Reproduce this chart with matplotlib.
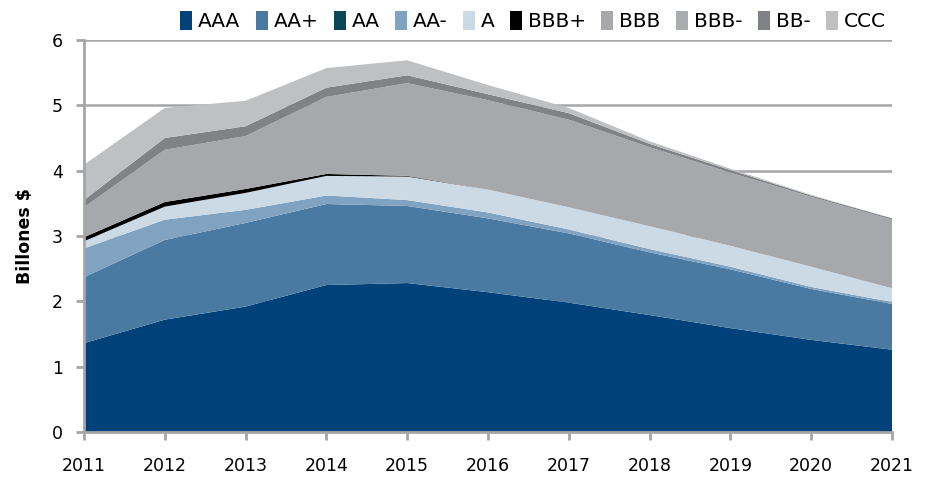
import matplotlib
matplotlib.use("Agg")
import matplotlib.pyplot as plt
import numpy as np
from matplotlib.patches import Patch

years = [2011, 2012, 2013, 2014, 2015, 2016, 2017, 2018, 2019, 2020, 2021]
labels = ["AAA", "AA+", "AA", "AA-", "A", "BBB+", "BBB", "BBB-", "BB-", "CCC"]

aaa = [1.36, 1.72, 1.92, 2.25, 2.28, 2.14, 1.98, 1.79, 1.59, 1.41, 1.26]
aa_plus = [1.01, 1.22, 1.28, 1.24, 1.18, 1.13, 1.06, 0.96, 0.90, 0.78, 0.70]
aa = [0, 0, 0, 0, 0, 0, 0, 0, 0, 0, 0]
aa_minus = [0.44, 0.31, 0.20, 0.13, 0.09, 0.09, 0.06, 0.05, 0.04, 0.03, 0.03]
a = [0.11, 0.20, 0.26, 0.30, 0.36, 0.35, 0.34, 0.35, 0.32, 0.31, 0.21]
bbb_plus = [0.06, 0.07, 0.06, 0.03, 0.01, 0, 0, 0, 0, 0, 0]
bbb = [0.46, 0.80, 0.81, 1.18, 1.42, 1.37, 1.34, 1.21, 1.12, 1.07, 1.05]
bbb_minus = [0, 0, 0, 0, 0, 0, 0, 0, 0, 0, 0]
bb_minus = [0.11, 0.18, 0.15, 0.14, 0.12, 0.09, 0.10, 0.05, 0.04, 0.02, 0.02]
ccc = [0.54, 0.46, 0.39, 0.30, 0.23, 0.14, 0.08, 0.04, 0.02, 0.01, 0.00]

series = [aaa, aa_plus, aa, aa_minus, a, bbb_plus, bbb, bbb_minus, bb_minus, ccc]
colors = ["#00417A", "#4A7AA2", "#0B4756", "#7FA3C0", "#CCDAE6", "#000000",
          "#A7A8AC", "#AAACAF", "#808285", "#BFC0C2"]

fig = plt.figure(figsize=(9.26, 4.78), dpi=100)
ax = fig.add_axes([0.0907, 0.0962, 0.8726, 0.8201])

ax.stackplot(years, *series, colors=colors, linewidth=0, zorder=2)

ax.set_xlim(2011, 2021)
ax.set_ylim(0, 6)
ax.set_xticks(years)
ax.set_yticks(range(0, 7))
ax.yaxis.grid(True, color="#A6A6A6", linewidth=1.8, zorder=0)
ax.set_axisbelow(True)

for s in ["top", "right"]:
    ax.spines[s].set_visible(False)
for s in ["left", "bottom"]:
    ax.spines[s].set_color("#A6A6A6")
    ax.spines[s].set_linewidth(2)
    ax.spines[s].set_zorder(3)

ax.tick_params(axis="both", colors="#A6A6A6", width=2, length=6,
               labelcolor="black", labelsize=12.5)
ax.tick_params(axis="x", pad=12)
ax.tick_params(axis="y", pad=9)
ax.set_ylabel("Billones $", fontsize=12.5, fontweight="bold", labelpad=13)

handles = [Patch(facecolor=c, edgecolor="none") for c in colors]
leg = fig.legend(handles, labels, loc="upper right", bbox_to_anchor=(0.976, 1.015),
                 ncol=10, frameon=False, handlelength=0.6, handleheight=1.1,
                 handletextpad=0.3, columnspacing=0.75,
                 prop={"family": ["Liberation Sans Narrow", "DejaVu Sans"], "size": 14.5})

fig.savefig("out.png", dpi=100)
